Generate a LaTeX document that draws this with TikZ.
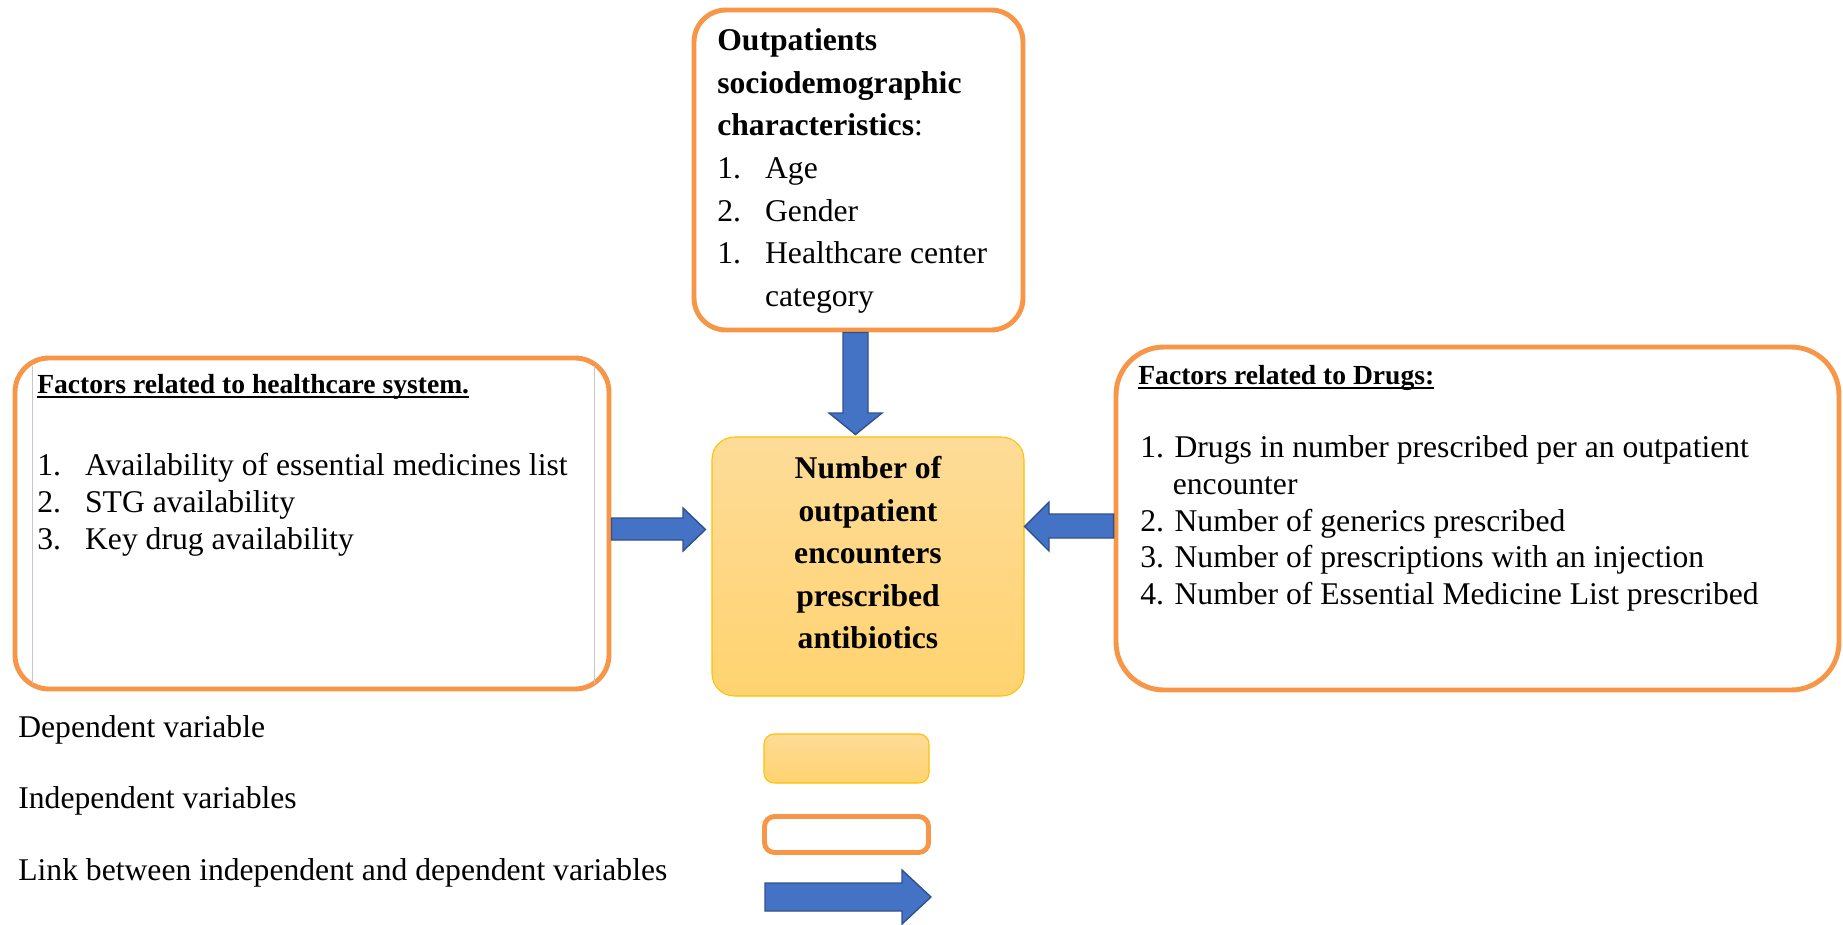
\documentclass[tikz,border=0pt]{standalone}
\usepackage{fontspec}
\setmainfont{Liberation Serif}
\usetikzlibrary{calc, fit}
\definecolor{boxorange}{RGB}{247,150,70}
\definecolor{arrowblue}{RGB}{68,114,196}
\definecolor{arrowedge}{RGB}{47,82,143}
\definecolor{goldtop}{RGB}{254,220,152}
\definecolor{goldbottom}{RGB}{255,211,112}
\definecolor{goldedge}{RGB}{255,192,0}
\newcommand{\itm}[2]{\makebox[27.2pt][l]{#1}#2}
\newcommand{\topstrut}{\rule{0pt}{14pt}}
\newlength{\ulwd}
\newcommand{\ulin}[1]{\settowidth{\ulwd}{#1}\rlap{\rule[-2.9pt]{\ulwd}{1.1pt}}#1}

\begin{document}
\begin{tikzpicture}[
    x=0.02cm, y=-0.02cm,
    indep/.style={draw=boxorange, line width=2.8pt, fill=white, inner sep=0pt},
    dep/.style={draw=goldedge, line width=0.6pt, top color=goldtop, bottom color=goldbottom,
                rounded corners=0.45cm, inner sep=0pt},
    blockarrow/.style={fill=arrowblue, draw=arrowedge, line width=0.8pt, line join=miter},
    txt/.style={inner sep=0pt, align=left, font=\fontsize{18}{21}\selectfont},
    head/.style={inner sep=0pt, anchor=base west, font=\bfseries\fontsize{15.7}{18}\selectfont}
]
\useasboundingbox (0,0) rectangle (1843,924);
%% boxes
\node[indep, rounded corners=0.64cm, fit={(694,10) (1023,330)}] (top) {};
\node[indep, rounded corners=0.68cm, fit={(15,358) (609,689)}] (lf) {};
\node[indep, rounded corners=0.96cm, fit={(1116,347) (1839,690)}] (rt) {};
\node[dep, fit={(712,437) (1024,696)}] (dep) {};
\draw[gray!45, line width=0.3pt] (32,366) -- (32,684) (594,366) -- (594,684);
%% box texts
\node[txt, anchor=north west, font=\fontsize{18}{24.3}\selectfont] (toptext) at (717,25.5)
    {\topstrut\textbf{Outpatients}\\ \textbf{sociodemographic}\\ \textbf{characteristics}:\\
     \itm{1.}{Age}\\ \itm{2.}{Gender}\\ \itm{1.}{Healthcare center}\\ \hspace*{27.2pt}category};
\node[txt, align=center, anchor=north, font=\bfseries\fontsize{18}{24.2}\selectfont] (deptext)
    at (868,453.8) {\topstrut Number of\\ outpatient\\ encounters\\ prescribed\\ antibiotics};
\node[head] (lfhead) at (37,393) {\ulin{Factors related to healthcare system.}};
\node[txt, anchor=north west] (lflist) at (37,450.3)
    {\topstrut\itm{1.}{Availability of essential medicines list}\\ \itm{2.}{STG availability}\\
     \itm{3.}{Key drug availability}};
\node[head] (rthead) at (1138,384) {\ulin{Factors related to Drugs:}};
\node[txt, anchor=north west] (rtlist) at (1140,432.3)
    {\topstrut 1. Drugs in number prescribed per an outpatient\\ \hspace*{18.5pt}encounter\\
     2. Number of generics prescribed\\ 3. Number of prescriptions with an injection\\
     4. Number of Essential Medicine List prescribed};
%% links
\draw[blockarrow] (top.south -| 843,0) -- (843,413) -- (829,413)
    -- ($(dep.north -| 855.5,0)+(0,-2)$) -- (882,413) -- (868,413) -- (top.south -| 868,0) -- cycle;
\draw[blockarrow] (lf.east |- 0,518) -- (683,518) -- (683,508)
    -- ($(dep.west |- 0,529.5)+(-6,0)$) -- (683,551) -- (683,540) -- (lf.east |- 0,540) -- cycle;
\draw[blockarrow] (rt.west |- 0,514) -- (1049,514) -- (1049,502)
    -- (dep.east |- 0,526.5) -- (1049,551) -- (1049,538) -- (rt.west |- 0,538) -- cycle;
%% legend
\node[txt, anchor=base west] (keydeptext) at (18,737) {Dependent variable};
\node[txt, anchor=base west] (keyindeptext) at (18,808) {Independent variables};
\node[txt, anchor=base west] (keylinktext) at (18,880) {Link between independent and dependent variables};
\node[dep, rounded corners=0.2cm, fit={(764,734) (929,783)}] (keydep) {};
\node[indep, rounded corners=0.2cm, fit={(764.5,816.5) (928.5,852.5)}] (keyindep) {};
\draw[blockarrow] (765,883) -- (902,883) -- (902,870) -- (keyindep.east |- 0,897)
    -- (902,924) -- (902,911) -- (765,911) -- cycle;
\end{tikzpicture}
\end{document}
